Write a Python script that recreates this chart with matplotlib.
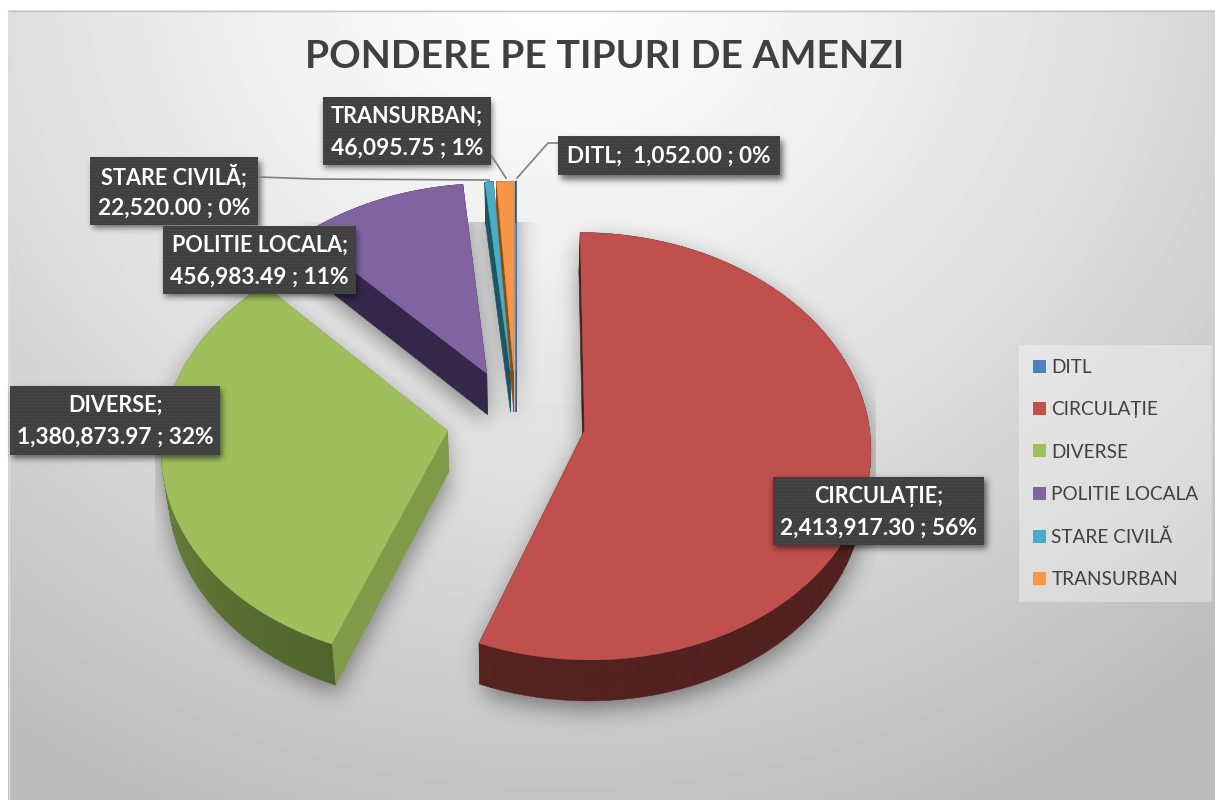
import numpy as np
import matplotlib
matplotlib.use("Agg")
import matplotlib.pyplot as plt
from matplotlib.collections import PolyCollection
from matplotlib.patches import Patch, Rectangle
from matplotlib.path import Path
from matplotlib.colors import to_rgb

plt.rcParams['font.family'] = ['Lato', 'Open Sans', 'DejaVu Sans']
plt.rcParams['hatch.linewidth'] = 0.8

# ---- data ----
categories = ['DITL', 'CIRCULAȚIE', 'DIVERSE', 'POLITIE LOCALA', 'STARE CIVILĂ', 'TRANSURBAN']
values = [1052.00, 2413917.30, 1380873.97, 456983.49, 22520.00, 46095.75]
percents = [0, 56, 32, 11, 0, 1]
explode = [0.24, 0.245, 0.245, 0.25, 0.24, 0.24]
colors = ['#4F81BD', '#C0504D', '#9FBF5C', '#8064A2', '#4BACC6', '#F79646']
radial_colors = ['#2f4d71', '#4E1F1E', '#7F9A48', '#35274A', '#1D5562', '#8A4D14']
rim_start = ['#2f4d71', '#552220', '#7E9A47', '#35274A', '#1D5562', '#8A4D14']
rim_end = ['#2f4d71', '#4A1D1C', '#4F632B', '#35274A', '#1D5562', '#8A4D14']
title = 'PONDERE PE TIPURI DE AMENZI'

# ---- label layout (box left, top, right, bottom in pixels) ----
label_boxes = [(558, 136, 780, 175), (773, 477, 984, 545), (10, 386, 220, 455),
               (163, 226, 356, 294), (90, 157, 258, 225), (323, 97, 491, 165)]
leaders = [[(558, 143), (548, 143), (517, 178)],
           None, None, None,
           [(258, 177), (316, 179), (489, 180)],
           [(491, 155), (506, 178)]]

# ---- projection of the pie plane ----
XC, YC, SX, SY, P, DEPTH, SHRINK = 516, 420.6, 284, 211, 0.075, 41, 0.98


def project(px, py):
    w = 1 + P * py
    return XC + SX * px / w, YC - SY * py / w


def lower(x, y):
    return XC + (x - XC) * SHRINK, y + DEPTH


fig = plt.figure(figsize=(12.15, 8), dpi=100, facecolor='white')
pax = fig.add_axes([0, 0, 1, 1])
wedges, _ = pax.pie(values, explode=explode, colors=colors, startangle=90,
                    counterclock=False, radius=1)
pax.set_visible(False)

ax = fig.add_axes([0, 0, 1, 1])
ax.set_xlim(0, 1215)
ax.set_ylim(800, 0)
ax.axis('off')

# background
gx, gy = np.meshgrid(np.linspace(8, 1215, 300), np.linspace(10, 800, 200))
d = np.sqrt(((gx - 560) / 860) ** 2 + ((gy + 40) / 800) ** 2)
grey = np.clip(1.0 - 0.22 * np.clip(d, 0, 1.15) ** 1.25, 0, 1)
ax.imshow(grey, cmap='gray', vmin=0, vmax=1, extent=(8, 1215, 800, 10),
          aspect='auto', zorder=0, interpolation='bilinear')
ax.plot([8, 1215], [10.5, 10.5], color='#c4c4c4', lw=1, zorder=0.5)
ax.plot([8.5, 8.5], [10, 800], color='#dddddd', lw=1, zorder=0.5)
ax.set_xlim(0, 1215)
ax.set_ylim(800, 0)


def soft_shadow(polys, offset, sigma, alpha, zorder, clip=None):
    step = 3
    xs = np.arange(0, 1215, step) + step / 2
    ys = np.arange(0, 800, step) + step / 2
    mx, my = np.meshgrid(xs, ys)
    pts = np.column_stack([mx.ravel() - offset[0], my.ravel() - offset[1]])
    mask = np.zeros(mx.shape)
    for poly in polys:
        mask = np.maximum(mask, Path(poly).contains_points(pts).reshape(mx.shape))
    r = int(3 * sigma / step) + 1
    kern = np.exp(-0.5 * (np.arange(-r, r + 1) * step / sigma) ** 2)
    kern /= kern.sum()
    mask = np.apply_along_axis(lambda v: np.convolve(v, kern, mode='same'), 0, mask)
    mask = np.apply_along_axis(lambda v: np.convolve(v, kern, mode='same'), 1, mask)
    rgba = np.zeros(mask.shape + (4,))
    rgba[..., 3] = mask * alpha
    im = ax.imshow(rgba, extent=(0, 1215, 800, 0), aspect='auto', zorder=zorder,
                   interpolation='bilinear')
    if clip is not None:
        im.set_clip_path(Rectangle((clip[0], clip[1]), clip[2] - clip[0], clip[3] - clip[1],
                                   transform=ax.transData))
    ax.set_xlim(0, 1215)
    ax.set_ylim(800, 0)


# slices
shadow_polys = []
for i, w in enumerate(wedges):
    t = np.radians(np.linspace(w.theta1, w.theta2, 90))
    px = np.r_[w.center[0], w.center[0] + w.r * np.cos(t)]
    py = np.r_[w.center[1], w.center[1] + w.r * np.sin(t)]
    x, y = project(px, py)
    bx, by = lower(x, y)
    top = np.column_stack([x, y])
    bot = np.column_stack([bx, by])
    shadow_polys += [top, bot, np.column_stack([(x + bx) / 2, (y + by) / 2])]

    quads, cols, keys = [], [], []
    n = len(x)
    for j in range(n):
        k = (j + 1) % n
        quads.append([top[j], top[k], bot[k], bot[j]])
        keys.append((y[j] + y[k]) / 2)
        if j == 0 or j == n - 1:
            cols.append(radial_colors[i])
        else:
            f = (j - 1) / (n - 2)
            c0, c1 = np.array(to_rgb(rim_start[i])), np.array(to_rgb(rim_end[i]))
            cols.append(tuple(c0 + (c1 - c0) * f))
    order = np.argsort(keys)
    quads = [quads[o] for o in order]
    cols = [cols[o] for o in order]
    ax.add_collection(PolyCollection(quads, facecolors=cols, edgecolors=cols,
                                     linewidths=0.4, zorder=3))
    ax.fill(x, y, facecolor=colors[i], edgecolor=colors[i], lw=0.3, zorder=4)

soft_shadow(shadow_polys, (1, 9), 11, 0.42, 2, clip=(155, 222, 876, 800))

# label boxes
box_polys = [[(l, t), (r, t), (r, b), (l, b)] for l, t, r, b in label_boxes]
soft_shadow(box_polys, (2, 4), 3, 0.55, 5)

for i, (l, t, r, b) in enumerate(label_boxes):
    ax.add_patch(Rectangle((l, t), r - l, b - t, facecolor='#3f3f3f', edgecolor='#4b4b4b',
                           hatch='.....', lw=0, zorder=6))
    val = f"{values[i]:,.2f} ; {percents[i]}%"
    cx = (l + r) / 2
    if i == 0:
        ax.text(cx, (t + b) / 2 + 0.5, f"{categories[i]};  {val}", color='white', fontsize=16.2,
                fontweight='bold', ha='center', va='center', zorder=7)
    else:
        ax.text(cx, t + 19.5, f"{categories[i]};", color='white', fontsize=15.6,
                fontweight='bold', ha='center', va='center', zorder=7)
        ax.text(cx, t + 51, val, color='white', fontsize=16.4,
                fontweight='bold', ha='center', va='center', zorder=7)
    if leaders[i]:
        ax.plot(*zip(*leaders[i]), color='#7f7f7f', lw=1.2, zorder=5)

ax.text(605, 57, title, color='#404040', fontsize=28.2, fontweight='bold',
        ha='center', va='center', zorder=7)

handles = [Patch(facecolor=c, edgecolor='none') for c in colors]
leg = ax.legend(handles, categories, loc='center', bbox_to_anchor=(1115.5, 473.5),
                bbox_transform=ax.transData, frameon=True, facecolor='white', framealpha=0.35,
                edgecolor='none', fancybox=False, fontsize=13.7, labelcolor='#404040',
                handlelength=0.68, handleheight=0.68, handletextpad=0.3, labelspacing=1.33,
                borderpad=0.72, borderaxespad=0)
leg.set_zorder(6)

fig.savefig('out.png', dpi=100, facecolor='white')
